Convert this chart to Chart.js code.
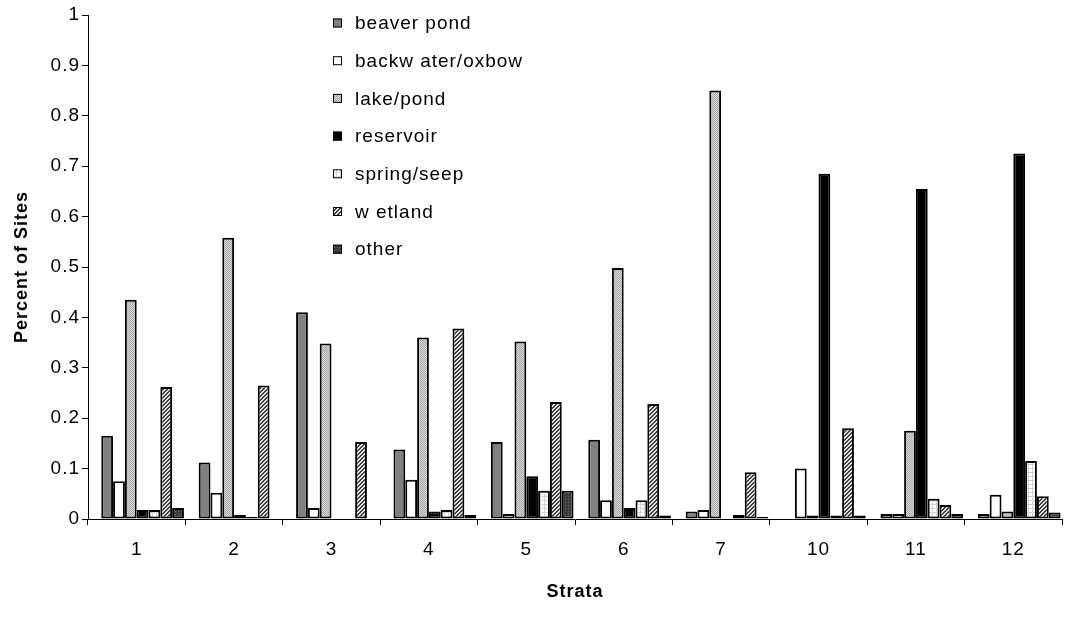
<!DOCTYPE html>
<html lang="en">
<head>
    <meta charset="UTF-8">
    <title>Percent of Sites by Strata</title>
    <script src="https://cdn.jsdelivr.net/npm/chart.js"></script>
    <style>
        body {
            margin: 0;
            background: #ffffff;
        }

        .chart-box {
            width: 1091px;
            height: 634px;
        }
    </style>
</head>
<body>
    <div class="chart-box">
        <canvas id="strataChart"></canvas>
    </div>

    <script>
        // Waterbody type shares per stratum
        const strata = ['1', '2', '3', '4', '5', '6', '7', '10', '11', '12'];
        const beaverPond  = [0.165, 0.112, 0.410, 0.138, 0.153, 0.157, 0.015, 0.000, 0.010, 0.010];
        const backwater   = [0.075, 0.052, 0.022, 0.078, 0.010, 0.037, 0.018, 0.100, 0.010, 0.048];
        const lakePond    = [0.435, 0.558, 0.348, 0.360, 0.352, 0.498, 0.850, 0.007, 0.175, 0.015];
        const reservoir   = [0.018, 0.008, 0.000, 0.015, 0.085, 0.022, 0.000, 0.685, 0.655, 0.725];
        const springSeep  = [0.018, 0.004, 0.000, 0.018, 0.056, 0.037, 0.008, 0.007, 0.040, 0.115];
        const wetland     = [0.262, 0.265, 0.153, 0.378, 0.232, 0.228, 0.093, 0.180, 0.028, 0.045];
        const otherType   = [0.022, 0.000, 0.000, 0.008, 0.056, 0.007, 0.004, 0.007, 0.010, 0.013];
        const yTicks = [0, 0.1, 0.2, 0.3, 0.4, 0.5, 0.6, 0.7, 0.8, 0.9, 1];

        // small tile fills, like the old spreadsheet patterns
        function makePattern(size, paint) {
            const c = document.createElement('canvas');
            c.width = size;
            c.height = size;
            const g = c.getContext('2d');
            paint(g);
            return g.createPattern(c, 'repeat');
        }

        const ctxMain = document.getElementById('strataChart').getContext('2d');

        const stipple = makePattern(2, g => {
            g.fillStyle = '#d9d9d9'; g.fillRect(0, 0, 2, 2);
            g.fillStyle = '#a6a6a6'; g.fillRect(0, 0, 1, 1); g.fillRect(1, 1, 1, 1);
        });
        const lightGrid = makePattern(4, g => {
            g.fillStyle = '#ffffff'; g.fillRect(0, 0, 4, 4);
            g.fillStyle = '#d4d4d4'; g.fillRect(0, 0, 4, 1); g.fillRect(0, 0, 1, 4);
        });
        const hatch = makePattern(4, g => {
            g.fillStyle = '#e0e0e0'; g.fillRect(0, 0, 4, 4);
            g.fillStyle = '#404040';
            for (let i = 0; i < 4; i++) {
                g.fillRect((3 - i) % 4, i, 1, 1);
                g.fillRect((4 - i) % 4, i, 1, 1);
            }
        });
        const darkGrid = makePattern(3, g => {
            g.fillStyle = '#3a3a3a'; g.fillRect(0, 0, 3, 3);
            g.fillStyle = '#6e6e6e'; g.fillRect(1, 1, 1, 1);
        });

        const fmt = v => String(+Number(v).toFixed(1));

        // legend drawn inside the plot, a single column
        const insideLegend = {
            id: 'insideLegend',
            afterDraw(chart) {
                const { ctx, chartArea } = chart;
                const x0 = chartArea.left + 245;
                const y0 = chartArea.top + 8;
                const step = 37.7;
                ctx.save();
                ctx.font = '19px "Liberation Sans", Arial, sans-serif';
                if ('letterSpacing' in ctx) ctx.letterSpacing = '1px';
                ctx.textBaseline = 'middle';
                chart.data.datasets.filter(ds => ds.label).forEach((ds, i) => {
                    const cy = y0 + i * step;
                    ctx.fillStyle = ds.backgroundColor;
                    ctx.fillRect(x0, cy - 4.5, 9, 9);
                    ctx.strokeStyle = '#000';
                    ctx.lineWidth = 1;
                    ctx.strokeRect(x0 + 0.5, cy - 4, 8, 8);
                    ctx.fillStyle = '#000';
                    ctx.fillText(ds.label, x0 + 22, cy + 1);
                });
                ctx.restore();
            }
        };

        // wider character spacing for the axis text
        const spacing = {
            id: 'spacing',
            beforeLayout(chart) { if ('letterSpacing' in chart.ctx) chart.ctx.letterSpacing = '1px'; },
            beforeDraw(chart) { if ('letterSpacing' in chart.ctx) chart.ctx.letterSpacing = '1px'; }
        };

        const barStyle = { borderColor: '#000', borderWidth: 2, borderSkipped: false };

        const strataChart = new Chart(ctxMain, {
            type: 'bar',
            data: {
                labels: strata,
                datasets: [
                    // empty leading slot: each group sits right of its tick centre
                    { label: '', data: [] },
                    { label: 'beaver pond', data: beaverPond, backgroundColor: '#808080', ...barStyle },
                    { label: 'backw ater/oxbow', data: backwater, backgroundColor: '#ffffff', ...barStyle },
                    { label: 'lake/pond', data: lakePond, backgroundColor: stipple, ...barStyle },
                    { label: 'reservoir', data: reservoir, backgroundColor: '#000000', ...barStyle },
                    { label: 'spring/seep', data: springSeep, backgroundColor: lightGrid, ...barStyle },
                    { label: 'w etland', data: wetland, backgroundColor: hatch, ...barStyle },
                    { label: 'other', data: otherType, backgroundColor: darkGrid, ...barStyle }
                ]
            },
            options: {
                responsive: true,
                maintainAspectRatio: false,
                animation: false,
                datasets: {
                    bar: { categoryPercentage: 0.97, barPercentage: 1.0 }
                },
                layout: {
                    padding: { top: 15, right: 29, bottom: 0, left: 0 }
                },
                plugins: {
                    legend: { display: false },
                    tooltip: { enabled: false }
                },
                scales: {
                    x: {
                        grid: { display: true, drawOnChartArea: false, tickLength: 6, color: '#000', offset: true },
                        border: { color: '#000', width: 1 },
                        ticks: {
                            color: '#000',
                            padding: 13,
                            font: { family: '"Liberation Sans", Arial, sans-serif', size: 19 }
                        },
                        title: {
                            display: true,
                            text: 'Strata',
                            color: '#000',
                            padding: { top: 0, bottom: 31 },
                            font: { family: '"Liberation Sans", Arial, sans-serif', size: 18, weight: 'bold' }
                        },
                        afterFit(scale) { scale.height = 115; }
                    },
                    y: {
                        min: 0,
                        max: 1,
                        afterBuildTicks(scale) { scale.ticks = yTicks.map(v => ({ value: v })); },
                        grid: { display: true, drawOnChartArea: false, tickLength: 6, color: '#000' },
                        border: { color: '#000', width: 1 },
                        ticks: {
                            color: '#000',
                            padding: 2,
                            callback: v => fmt(v),
                            font: { family: '"Liberation Sans", Arial, sans-serif', size: 19 }
                        },
                        title: {
                            display: true,
                            text: 'Percent of Sites',
                            color: '#000',
                            padding: { top: 11, bottom: 0 },
                            font: { family: '"Liberation Sans", Arial, sans-serif', size: 18, weight: 'bold' }
                        },
                        afterFit(scale) { scale.width = 88; }
                    }
                }
            },
            plugins: [spacing, insideLegend]
        });
    </script>
</body>
</html>
